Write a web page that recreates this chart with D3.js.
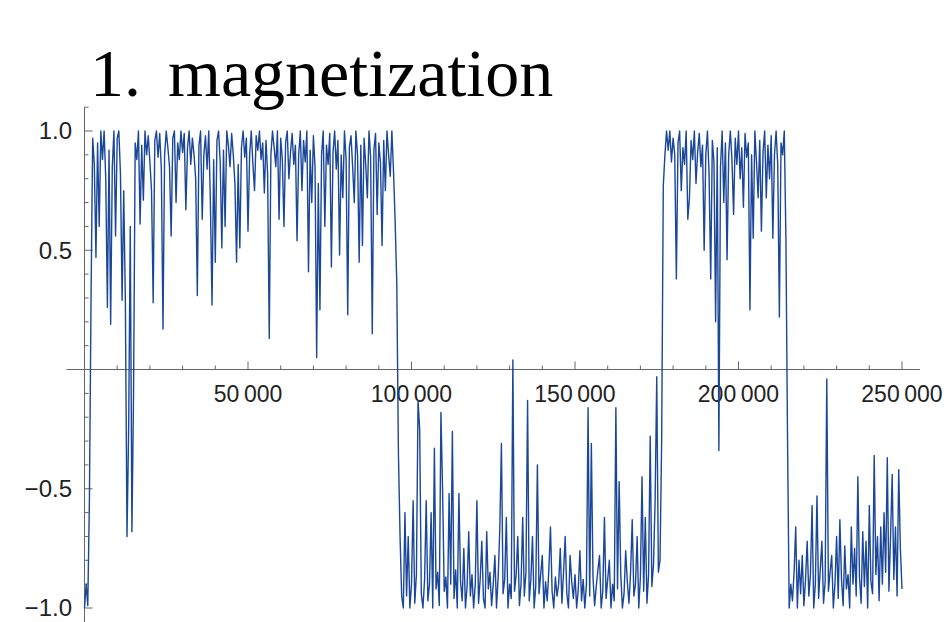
<!DOCTYPE html>
<html>
<head>
<meta charset="utf-8">
<script src="https://cdn.jsdelivr.net/npm/d3@7"></script>
<style>
  body { margin: 0; background: #fff; }
  svg { display: block; }
</style>
</head>
<body>
<svg width="949" height="622"></svg>
<script>
var titleNumber = "1.";
var titleWord = "magnetization";

// one sample every 500 steps, 0 .. 250000
var stepSize = 500;
var magnetization = [
  -1.0, -0.9, -0.99, -0.55, 0.3, 0.97, 0.86, 0.47, 0.95, 0.6,
  1.0, 0.88, 1.0, 0.8, 0.26, 0.92, 0.19, 0.85, 1.0, 0.56,
  0.97, 1.0, 0.82, 0.29, 0.75, 0.28, -0.70, -0.25, 0.6, -0.68,
  -0.1, 0.95, 0.88, 1.0, 0.61, 0.94, 0.71, 1.0, 0.9, 0.98,
  0.87, 0.75, 0.28, 0.96, 1.0, 0.89, 0.99, 0.84, 0.17, 0.9,
  1.0, 0.93, 0.85, 0.56, 0.97, 1.0, 0.7, 0.95, 0.88, 1.0,
  0.91, 0.99, 0.67, 0.93, 1.0, 0.86, 0.97, 0.9, 0.8, 0.31,
  0.94, 1.0, 0.63, 0.9, 0.98, 0.84, 1.0, 0.7, 0.27, 0.88,
  0.45, 0.96, 1.0, 0.87, 0.51, 0.92, 0.6, 1.0, 0.94, 0.85,
  0.99, 0.9, 0.78, 0.45, 0.86, 0.51, 0.93, 1.0, 0.89, 0.97,
  0.58, 0.9, 1.0, 0.86, 0.75, 0.98, 0.92, 1.0, 0.88, 0.95,
  0.74, 0.96, 0.82, 0.13, 0.9, 1.0, 0.93, 0.85, 1.0, 0.63,
  0.97, 0.88, 0.6, 0.95, 1.0, 0.8, 0.91, 0.99, 0.86, 0.94,
  0.54, 0.9, 1.0, 0.75, 0.96, 0.87, 1.0, 0.41, 0.92, 0.7,
  0.98, 0.85, 0.05, 0.78, 0.25, 0.9, 1.0, 0.6, 0.94, 0.86,
  0.99, 0.43, 0.91, 1.0, 0.84, 0.96, 0.48, 0.9, 0.72, 1.0,
  0.88, 0.23, 0.93, 0.98, 0.85, 0.7, 1.0, 0.9, 0.45, 0.94,
  0.52, 0.97, 0.86, 0.72, 1.0, 0.89, 0.15, 0.92, 0.99, 0.65,
  0.95, 0.87, 0.52, 0.96, 0.75, 1.0, 0.9, 0.81, 1.0, 0.83,
  0.62, 0.36, -0.35, -0.7, -0.95, -1.0, -0.6, -0.95, -0.7, -1.0,
  -0.9, -0.55, -0.98, -0.86, -0.13, -0.25, -0.94, -1.0, -0.88, -0.55,
  -0.97, -0.9, -0.6, -1.0, -0.33, -0.92, -0.85, -0.99, -0.18, -0.5,
  -0.93, -0.87, -1.0, -0.52, -0.9, -0.26, -0.96, -0.84, -1.0, -0.52,
  -0.89, -0.97, -0.75, -1.0, -0.91, -0.68, -0.95, -0.86, -1.0, -0.9,
  -0.55, -0.98, -0.88, -0.72, -0.96, -1.0, -0.68, -0.92, -0.85, -0.99,
  -0.9, -0.78, -1.0, -0.87, -0.67, -0.31, -0.94, -0.88, -0.62, -1.0,
  -0.9, -0.96, 0.04, -0.93, -0.86, -0.7, -0.99, -0.9, -0.62, -0.95,
  -0.85, -0.13, -0.97, -0.88, -0.7, -1.0, -0.91, -0.4, -0.94, -0.86,
  -0.78, -1.0, -0.89, -0.97, -0.84, -0.66, -0.93, -1.0, -0.87, -0.95,
  -0.9, -0.75, -0.98, -0.85, -0.7, -0.94, -1.0, -0.78, -0.89, -0.96,
  -0.86, -1.0, -0.92, -0.76, -0.97, -0.88, -1.0, -0.9, -0.16, -0.95,
  -0.31, -0.87, -0.99, -0.91, -0.84, -0.78, -1.0, -0.93, -0.62, -0.96,
  -0.88, -0.8, -1.0, -0.9, -0.97, -0.16, -0.92, -0.47, -0.86, -1.0,
  -0.94, -0.76, -0.89, -0.98, -0.85, -0.63, -0.95, -0.9, -0.7, -1.0,
  -0.87, -0.45, -0.93, -0.62, -0.98, -0.86, -0.28, -0.91, -0.82, -0.55,
  -0.03, -0.85, -0.8, -0.3, 0.77, 0.9, 1.0, 0.92, 1.0, 0.87,
  0.97, 0.9, 0.38, 0.95, 1.0, 0.75, 0.93, 0.86, 1.0, 0.63,
  0.72, 0.96, 0.88, 1.0, 0.78, 0.91, 0.99, 0.85, 0.94, 0.5,
  0.9, 1.0, 0.82, 0.38, 0.96, 0.87, 0.2, 0.93, -0.34, 0.85,
  1.0, 0.7, 0.95, 0.46, 0.9, 1.0, 0.88, 0.65, 0.97, 0.86,
  1.0, 0.8, 0.93, 0.68, 0.99, 0.89, 0.95, 0.25, 0.9, 0.55,
  1.0, 0.87, 0.72, 0.96, 0.58, 0.91, 1.0, 0.72, 0.94, 0.8,
  0.98, 0.55, 0.9, 1.0, 0.86, 0.22, 0.95, 0.9, 1.0, 0.55,
  -0.3, -1.0, -0.9, -0.97, -0.85, -0.66, -1.0, -0.8, -0.94, -0.78,
  -0.99, -0.88, -0.72, -0.95, -0.86, -0.57, -1.0, -0.9, -0.53, -0.96,
  -0.84, -0.72, -0.98, -0.89, -0.04, -0.93, -0.85, -0.78, -1.0, -0.9,
  -0.7, -0.96, -0.63, -0.88, -0.99, -0.74, -0.92, -0.86, -1.0, -0.66,
  -0.9, -0.75, -0.95, -0.45, -0.87, -0.98, -0.68, -0.91, -0.72, -1.0,
  -0.57, -0.89, -0.94, -0.36, -0.86, -0.7, -0.97, -0.66, -0.9, -0.6,
  -0.85, -0.37, -0.93, -0.7, -0.44, -0.88, -0.66, -0.95, -0.42, -0.75,
  -0.92
];

var xTicks = [50000, 100000, 150000, 200000, 250000];
var xTickLabels = ["50\u2009000", "100\u2009000", "150\u2009000", "200\u2009000", "250\u2009000"];
var yTicks = [1.0, 0.5, -0.5, -1.0];
var yTickLabels = ["1.0", "0.5", "\u22120.5", "\u22121.0"];

var svg = d3.select("svg");

var x = d3.scaleLinear().domain([0, 250000]).range([84.5, 902]);
var y = d3.scaleLinear().domain([-1, 1]).range([608, 131]);

var axisColor = "#666";

// title
var t = svg.append("text")
  .attr("x", 90)
  .attr("y", 96)
  .attr("font-family", "Liberation Serif, Times New Roman, serif")
  .attr("font-size", 68)
  .attr("fill", "#000");
t.append("tspan").text(titleNumber);
t.append("tspan").attr("x", 168).text(titleWord);

// x axis
svg.append("line")
  .attr("x1", x(-5500)).attr("x2", x(255500))
  .attr("y1", y(0)).attr("y2", y(0))
  .attr("stroke", axisColor).attr("stroke-width", 1);

var xMinor = d3.range(10000, 255000, 10000).filter(function(d) { return d % 50000 != 0; });
svg.selectAll(".xminor")
  .data(xMinor)
  .enter().append("line")
  .attr("x1", function(d) { return x(d); })
  .attr("x2", function(d) { return x(d); })
  .attr("y1", y(0)).attr("y2", y(0) - 4)
  .attr("stroke", axisColor);

svg.selectAll(".xmajor")
  .data(xTicks)
  .enter().append("line")
  .attr("x1", function(d) { return x(d); })
  .attr("x2", function(d) { return x(d); })
  .attr("y1", y(0)).attr("y2", y(0) - 8)
  .attr("stroke", axisColor);

svg.selectAll(".xlabel")
  .data(xTicks)
  .enter().append("text")
  .attr("x", function(d) { return x(d); })
  .attr("y", 402)
  .attr("text-anchor", "middle")
  .attr("font-family", "Liberation Sans, Arial, sans-serif")
  .attr("font-size", 23)
  .attr("fill", "#222")
  .text(function(d, i) { return xTickLabels[i]; });

// y axis
svg.append("line")
  .attr("x1", x(0)).attr("x2", x(0))
  .attr("y1", y(1.1)).attr("y2", 622)
  .attr("stroke", axisColor).attr("stroke-width", 1);

var yMinor = d3.range(-10, 12, 1).filter(function(d) { return d % 5 != 0; }).map(function(d) { return d / 10; });
svg.selectAll(".yminor")
  .data(yMinor)
  .enter().append("line")
  .attr("x1", x(0)).attr("x2", x(0) + 4)
  .attr("y1", function(d) { return y(d); })
  .attr("y2", function(d) { return y(d); })
  .attr("stroke", axisColor);

svg.selectAll(".ymajor")
  .data(yTicks)
  .enter().append("line")
  .attr("x1", x(0)).attr("x2", x(0) + 8)
  .attr("y1", function(d) { return y(d); })
  .attr("y2", function(d) { return y(d); })
  .attr("stroke", axisColor);

svg.selectAll(".ylabel")
  .data(yTicks)
  .enter().append("text")
  .attr("x", 72)
  .attr("y", function(d) { return y(d); })
  .attr("dy", "0.35em")
  .attr("text-anchor", "end")
  .attr("font-family", "Liberation Sans, Arial, sans-serif")
  .attr("font-size", 24)
  .attr("fill", "#222")
  .text(function(d, i) { return yTickLabels[i]; });

// the trace
var line = d3.line()
  .x(function(d, i) { return x(i * stepSize); })
  .y(function(d) { return y(d); });

svg.append("path")
  .datum(magnetization)
  .attr("d", line)
  .attr("fill", "none")
  .attr("stroke", "#1a4798")
  .attr("stroke-width", 1.4)
  .attr("stroke-linejoin", "round");
</script>
</body>
</html>
